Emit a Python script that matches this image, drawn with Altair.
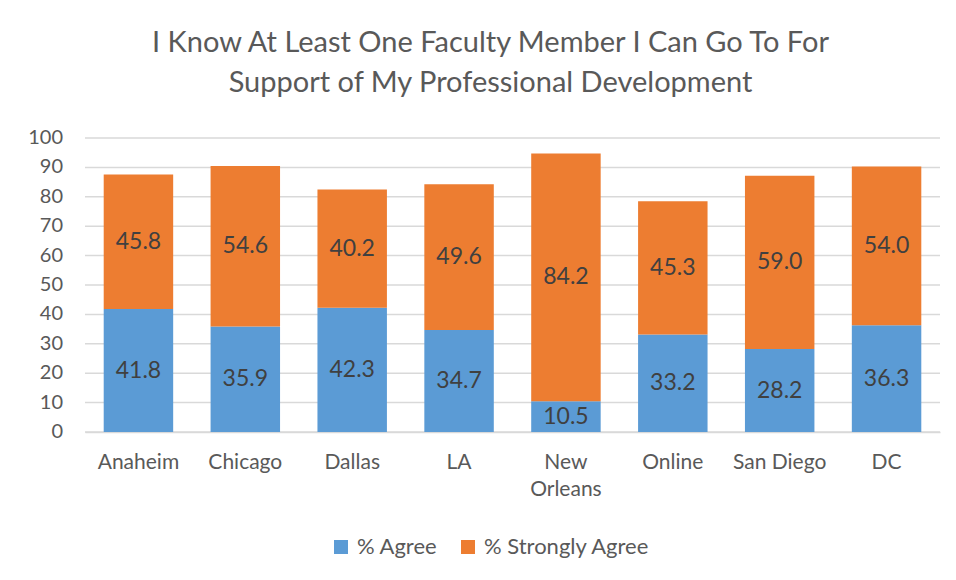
import altair as alt
import pandas as pd

cities = ["Anaheim", "Chicago", "Dallas", "LA", "New Orleans", "Online", "San Diego", "DC"]
agree = [41.8, 35.9, 42.3, 34.7, 10.5, 33.2, 28.2, 36.3]
strongly_agree = [45.8, 54.6, 40.2, 49.6, 84.2, 45.3, 59.0, 54.0]
series = ["% Agree", "% Strongly Agree"]
colors = ["#5B9BD5", "#ED7D31"]
y_ticks = [0, 10, 20, 30, 40, 50, 60, 70, 80, 90, 100]

rows = []
for c, a, s in zip(cities, agree, strongly_agree):
    rows.append({"city": c, "series": series[0], "value": a, "ord": 0})
    rows.append({"city": c, "series": series[1], "value": s, "ord": 1})
df = pd.DataFrame(rows)
ticks_df = pd.DataFrame({"tick": y_ticks})

FONT = "Lato"
W, H = 855, 294

y_scale = alt.Scale(domain=[0, 100], nice=False)

# gridlines and y tick labels drawn from the tick list through the y scale
grid = alt.Chart(ticks_df).mark_rule(color="#D9D9D9", strokeWidth=1.5).encode(
    y=alt.Y("tick:Q", scale=y_scale, axis=None),
    x=alt.value(0),
    x2=alt.value(W),
)
ytext = alt.Chart(ticks_df).mark_text(
    font=FONT, fontSize=20, color="#595959", align="right", baseline="middle"
).encode(
    y=alt.Y("tick:Q", scale=y_scale, axis=None),
    x=alt.value(-22),
    text=alt.Text("tick:Q", format="d"),
)

base = alt.Chart(df).transform_stack(
    stack="value", groupby=["city"], as_=["y0", "y1"], sort=[alt.SortField("ord", order="ascending")]
).transform_calculate(mid="(datum.y0 + datum.y1) / 2")

x_enc = alt.X(
    "city:N",
    sort=cities,
    title=None,
    scale=alt.Scale(paddingInner=0.35, paddingOuter=0.175),
    axis=alt.Axis(
        labelAngle=0,
        labelFont=FONT,
        labelFontSize=21,
        labelColor="#595959",
        labelPadding=19,
        labelLineHeight=27,
        labelBaseline="top",
        labelOverlap=False,
        ticks=False,
        domain=True,
        domainColor="#D9D9D9",
        domainWidth=1.5,
        grid=False,
        labelExpr="datum.label == 'New Orleans' ? ['New', 'Orleans'] : datum.label",
    ),
)

bars = base.mark_bar().encode(
    x=x_enc,
    y=alt.Y("y0:Q", title=None, scale=y_scale, axis=None),
    y2="y1:Q",
    color=alt.Color(
        "series:N",
        scale=alt.Scale(domain=series, range=colors),
        legend=alt.Legend(
            title=None,
            orient="none",
            direction="horizontal",
            legendX=245,
            legendY=398,
            symbolType="square",
            symbolSize=196,
            symbolStrokeWidth=0,
            labelFont=FONT,
            labelFontSize=22,
            labelColor="#595959",
            labelOffset=5,
            labelLimit=400,
        ),
    ),
)

labels = base.mark_text(font=FONT, fontSize=23, color="#404040", baseline="middle").encode(
    x=alt.X("city:N", sort=cities),
    y=alt.Y("mid:Q", scale=y_scale, axis=None),
    text=alt.Text("value:Q", format=".1f"),
)

chart = (
    alt.layer(grid, ytext, bars, labels)
    .properties(
        width=W,
        height=H,
        background="white",
        autosize=alt.AutoSizeParams(type="none"),
        padding={"left": 77, "top": 130, "right": 8, "bottom": 140},
        title=alt.TitleParams(
            text=["I Know At Least One Faculty Member I Can Go To For", "Support of My Professional Development"],
            font=FONT,
            fontSize=29,
            fontWeight="normal",
            color="#595959",
            lineHeight=40,
            anchor="middle",
            dx=-22,
            offset=30,
        ),
    )
    .configure_view(stroke=None)
    .configure_legend(columnPadding=19)
)

chart.save("out.html", embed_options={"renderer": "svg", "actions": False})
